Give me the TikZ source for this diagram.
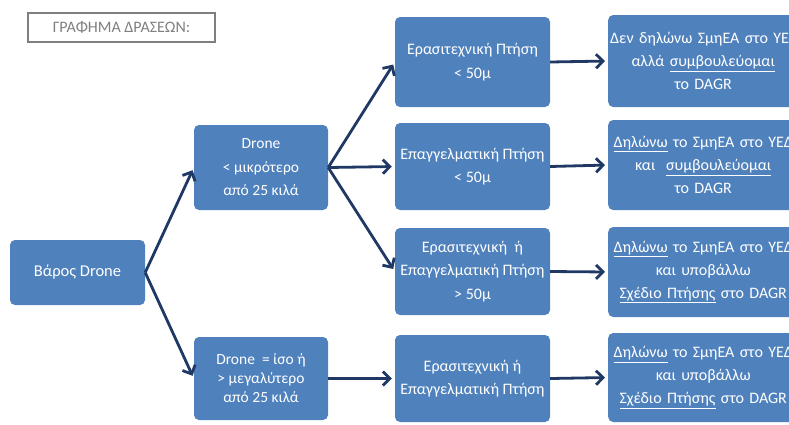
\documentclass[tikz,border=0pt]{standalone}
\usepackage{fontspec}
\setmainfont{Carlito}
\usetikzlibrary{arrows.meta,backgrounds}
\definecolor{boxblue}{RGB}{79,129,189}
\definecolor{arrowblue}{RGB}{31,56,100}
\definecolor{titlegray}{RGB}{127,127,127}

\begin{document}
\begin{tikzpicture}[x = 1pt, y = -1pt,
		box/.style = {fill = boxblue, rounded corners = 5pt, text = white, align = center, inner sep = 0pt, font = \fontsize{16}{23.5}\selectfont},
		actbox/.style = {box, anchor = west, inner xsep = 2pt, text width = 186pt, font = \fontsize{16}{23}\selectfont},
		flow/.style = {draw = arrowblue, line width = 2.8pt, -{Straight Barb[length = 7pt, width = 14pt]}, shorten > = 3pt}
	]
		\useasboundingbox (0,0) rectangle (789,424);
		\clip (0,0) rectangle (789,424);
		
		\node [draw = titlegray, line width = 1.2pt, text = titlegray, minimum width = 187pt, minimum height = 29pt, font = \fontsize{16}{18}\selectfont] (title) at (121.5, 27.5) {ΓΡΑΦΗΜΑ ΔΡΑΣΕΩΝ:};
		
		\node [box, minimum width = 135pt, minimum height = 65pt, font = \fontsize{16.5}{22}\selectfont] (weight) at (77.5, 272.5) {Βάρος Drone};
		
		\node [box, minimum width = 134pt, minimum height = 85pt, font = \fontsize{15.5}{23.5}\selectfont] (under25) at (261, 167.5) {Drone\\< μικρότερο\\από 25 κιλά};
		\node [box, minimum width = 134pt, minimum height = 83pt, font = \fontsize{15.5}{19}\selectfont] (over25) at (261, 378.5) {Drone \ = ίσο ή\\> μεγαλύτερο\\από 25 κιλά};
		
		\node [box, minimum width = 155pt, minimum height = 90pt] (amateur) at (472.5, 62) {Ερασιτεχνική Πτήση\\< 50μ};
		\node [box, minimum width = 155pt, minimum height = 87pt] (pro) at (472.5, 166.5) {Επαγγελματική Πτήση\\< 50μ};
		\node [box, minimum width = 155pt, minimum height = 87pt] (high) at (472.5, 271.5) {Ερασιτεχνική \ ή\\Επαγγελματική Πτήση\\> 50μ};
		\node [box, minimum width = 155pt, minimum height = 87pt] (anyflight) at (472.5, 378.5) {Ερασιτεχνική ή\\Επαγγελματική Πτήση};
		
		\node [actbox, minimum height = 92pt] (consult) at (608, 61) {\mbox{Δεν δηλώνω ΣμηΕΑ στο ΥΕΔ}\\αλλά \underline{συμβουλεύομαι}\\το DAGR};
		\node [actbox, minimum height = 90pt] (declare) at (608, 165) {\mbox{\underline{Δηλώνω} το ΣμηΕΑ στο ΥΕΔ}\\και \ \underline{συμβουλεύομαι}\\το DAGR};
		\node [actbox, minimum height = 90pt] (plan) at (608, 272) {\mbox{\underline{Δηλώνω} το ΣμηΕΑ στο ΥΕΔ}\\και υποβάλλω\\\mbox{\underline{Σχέδιο Πτήσης} στο DAGR}};
		\node [actbox, minimum height = 89pt] (planheavy) at (608, 377.5) {\mbox{\underline{Δηλώνω} το ΣμηΕΑ στο ΥΕΔ}\\και υποβάλλω\\\mbox{\underline{Σχέδιο Πτήσης} στο DAGR}};
		
		\begin{scope}[on background layer]
			\foreach \act in {consult, declare, plan, planheavy}
				\fill [boxblue, rounded corners = 5pt] ([xshift = -10pt]\act.north east) rectangle ([xshift = 40pt]\act.south east);
		\end{scope}
		
		\draw [flow] (weight.east) -- (under25.west);
		\draw [flow] (weight.east) -- (over25.west);
		
		\draw [flow] (under25.east) -- (amateur.west);
		\draw [flow] (under25.east) -- (pro.west);
		\draw [flow] (under25.east) -- (high.west);
		\draw [flow] (over25.east) -- (anyflight.west);
		
		\draw [flow] (amateur.east) -- (consult.west);
		\draw [flow] (pro.east) -- (declare.west);
		\draw [flow] (high.east) -- (plan.west);
		\draw [flow] (anyflight.east) -- (planheavy.west);
\end{tikzpicture}
\end{document}
